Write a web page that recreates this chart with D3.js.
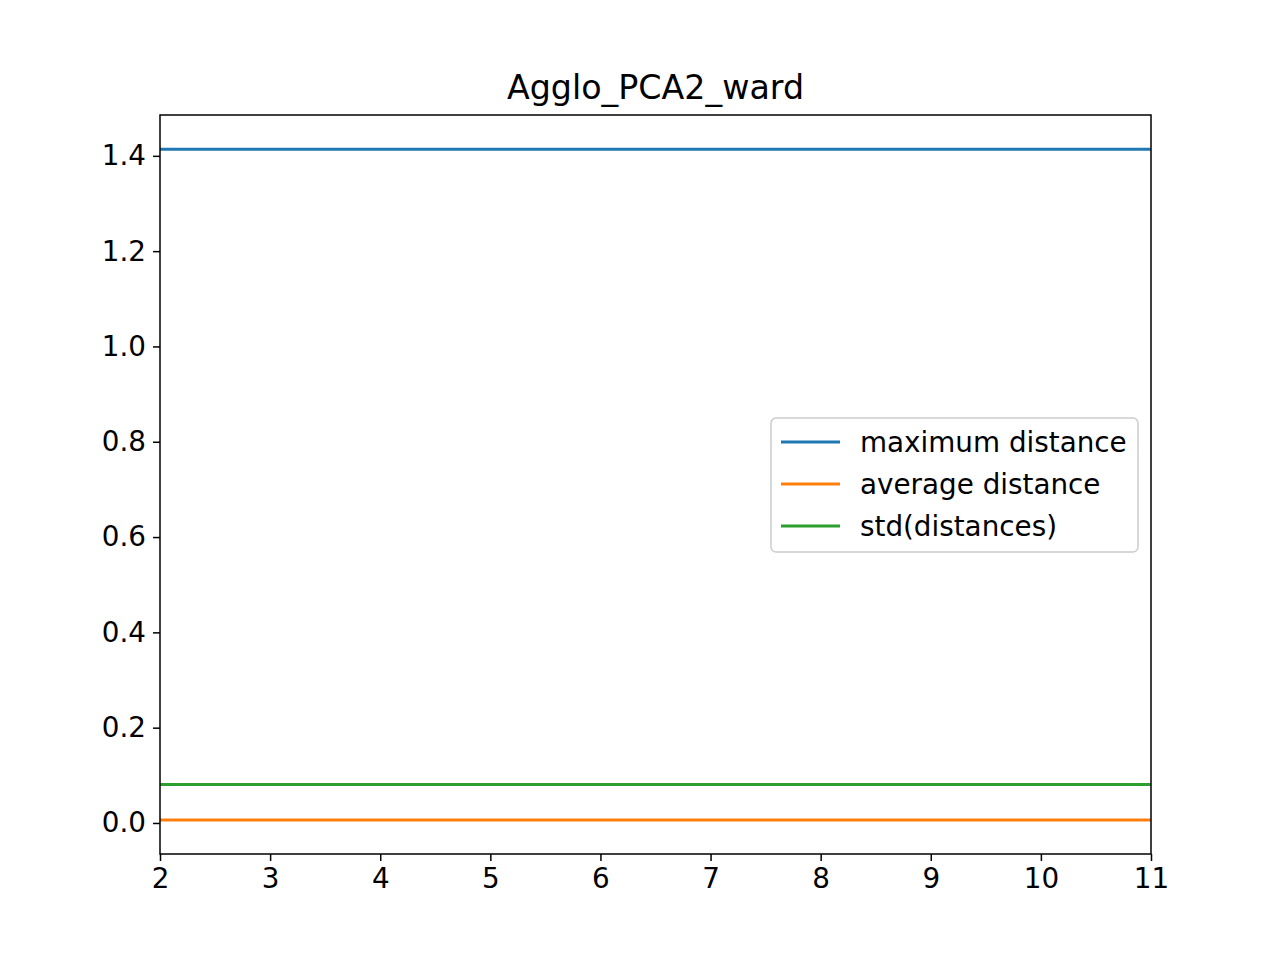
<!DOCTYPE html>
<html>
<head>
<meta charset="utf-8">
<script src="https://cdn.jsdelivr.net/npm/d3@7"></script>
<style>
  body { margin: 0; background: #fff; }
  text { font-family: "DejaVu Sans", sans-serif; }
</style>
</head>
<body>
<svg id="chart" width="1280" height="960"></svg>
<script>
// clusters on the x axis
var clusters = [2, 3, 4, 5, 6, 7, 8, 9, 10, 11];
var maxDistance = [1.414, 1.414, 1.414, 1.414, 1.414, 1.414, 1.414, 1.414, 1.414, 1.414];
var avgDistance = [0.006, 0.006, 0.006, 0.006, 0.006, 0.006, 0.006, 0.006, 0.006, 0.006];
var stdDistance = [0.081, 0.081, 0.081, 0.081, 0.081, 0.081, 0.081, 0.081, 0.081, 0.081];
var seriesNames = ['maximum distance', 'average distance', 'std(distances)'];
var yTicks = [0, 0.2, 0.4, 0.6, 0.8, 1.0, 1.2, 1.4];

var colors = ['#1f77b4', '#ff7f0e', '#2ca02c'];
var plotLeft = 160, plotRight = 1151, plotTop = 115, plotBottom = 854;

var svg = d3.select('#chart');
var x = d3.scaleLinear().domain([2, 11]).range([plotLeft, plotRight]);
var y = d3.scaleLinear().domain([-0.0651, 1.4857]).range([plotBottom, plotTop]);

svg.append('g')
    .attr('transform', 'translate(0,' + plotBottom + ')')
    .call(d3.axisBottom(x).tickValues(clusters).tickFormat(d3.format('d')).tickSizeOuter(0).tickSize(7).tickPadding(7))
    .call(function (g) { g.select('.domain').remove(); g.selectAll('line').attr('stroke-width', 1.5); })
    .selectAll('text').attr('font-size', 27.8).attr('fill', '#000');

svg.append('g')
    .attr('transform', 'translate(' + plotLeft + ',0)')
    .call(d3.axisLeft(y).tickValues(yTicks).tickFormat(d3.format('.1f')).tickSizeOuter(0).tickSize(7).tickPadding(7))
    .call(function (g) { g.select('.domain').remove(); g.selectAll('line').attr('stroke-width', 1.5); })
    .selectAll('text').attr('font-size', 27.8).attr('fill', '#000');

var line = d3.line()
    .x(function (d, i) { return x(clusters[i]); })
    .y(function (d) { return y(d); });

[maxDistance, avgDistance, stdDistance].forEach(function (s, i) {
    svg.append('path')
        .attr('d', line(s))
        .attr('fill', 'none')
        .attr('stroke', colors[i])
        .attr('stroke-width', 3);
});

svg.append('rect')
    .attr('x', plotLeft).attr('y', plotTop)
    .attr('width', plotRight - plotLeft).attr('height', plotBottom - plotTop)
    .attr('fill', 'none').attr('stroke', '#000').attr('stroke-width', 1.5);

svg.append('text')
    .attr('x', (plotLeft + plotRight) / 2).attr('y', 99)
    .attr('text-anchor', 'middle').attr('font-size', 33.3)
    .text('Agglo_PCA2_ward');

// legend
var legend = svg.append('g').attr('transform', 'translate(771,418)');
legend.append('rect')
    .attr('width', 367).attr('height', 134).attr('rx', 5)
    .attr('fill', '#fff').attr('fill-opacity', 0.8)
    .attr('stroke', '#ccc').attr('stroke-width', 1.5);
seriesNames.forEach(function (name, i) {
    var ly = 24 + i * 42;
    legend.append('line')
        .attr('x1', 10).attr('x2', 69).attr('y1', ly).attr('y2', ly)
        .attr('stroke', colors[i]).attr('stroke-width', 3);
    legend.append('text')
        .attr('x', 89).attr('y', ly + 10)
        .attr('font-size', 27.8)
        .text(name);
});
</script>
</body>
</html>
